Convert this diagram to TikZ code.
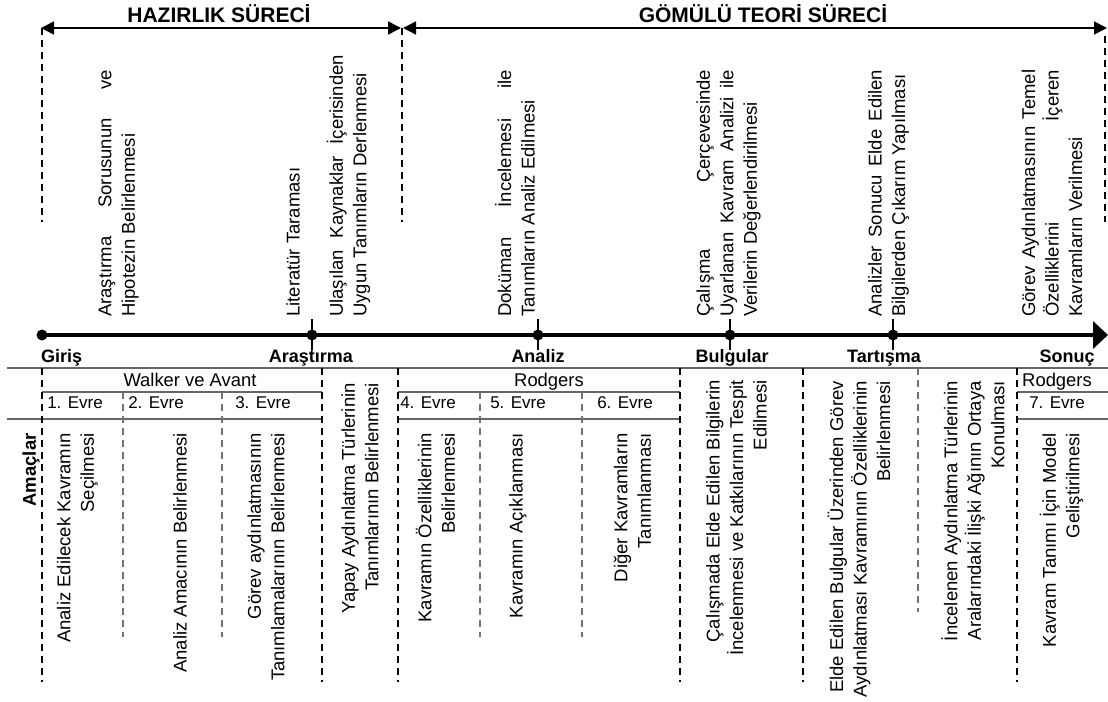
\documentclass[tikz,border=0pt]{standalone}
\usepackage{fontspec}
\setmainfont{Liberation Sans}
\usetikzlibrary{arrows.meta}
\begin{document}
\begin{tikzpicture}[x=1bp,y=-1bp,
  hdr/.style={font=\fontsize{21bp}{25bp}\selectfont\bfseries, inner sep=0, anchor=base},
  lbl/.style={font=\fontsize{18bp}{22bp}\selectfont\bfseries, inner sep=0, anchor=base},
  grp/.style={font=\fontsize{18.4bp}{22bp}\selectfont, inner sep=0, anchor=base},
  evre/.style={font=\fontsize{17bp}{20bp}\selectfont, inner sep=0, anchor=base},
  up/.style={rotate=90, anchor=west, align=left, inner sep=0, font=\fontsize{18.5bp}{23.5bp}\selectfont},
  low/.style={rotate=90, anchor=east, align=right, inner sep=0, font=\fontsize{18.5bp}{23.5bp}\selectfont},
  bdash/.style={dash pattern=on 7bp off 5bp, line width=1.6bp},
  gdash/.style={draw=black!55, dash pattern=on 7bp off 5bp, line width=1.2bp},
  rule/.style={draw=black!60, line width=1.3bp},
  dot/.style={circle, fill=black, inner sep=0, minimum size=11bp},
  tick/.style={line width=2bp},
  harr/.style={line width=1.5bp, {Triangle[length=13bp,width=13bp]}-{Triangle[length=13bp,width=13bp]}}
]
\useasboundingbox (0,0) rectangle (1108,702);

% ---------- top process arrows ----------
\coordinate (a0) at (41,28);
\coordinate (a1) at (401,28);
\coordinate (b0) at (403,28);
\coordinate (b1) at (1107,28);
\draw[harr] (a0) -- (a1);
\draw[harr] (b0) -- (b1);
\node[hdr] (hz) at (219,23) {HAZIRLIK SÜRECİ};
\node[hdr] (gt) at (763,23) {GÖMÜLÜ TEORİ SÜRECİ};

\coordinate (v1t) at (42,28);   \coordinate (v1b) at (42,222);
\coordinate (v2t) at (402,28);  \coordinate (v2b) at (402,222);
\coordinate (v3t) at (1105,36); \coordinate (v3b) at (1105,222);
\draw[bdash] (v1t) -- (v1b);
\draw[bdash] (v2t) -- (v2b);
\draw[bdash] (v3t) -- (v3b);

% ---------- upper rotated texts ----------
\node[up] (u1) at (118.5,317) {\hbox to 247bp{Araştırma\hfill Sorusunun\hfill ve}\\Hipotezin Belirlenmesi};
\node[up] (u2) at (293,317) {Literatür Taraması};
\node[up] (u3) at (348.5,317) {\hbox to 262bp{Ulaşılan\hfill Kaynaklar\hfill İçerisinden}\\Uygun Tanımların Derlenmesi};
\node[up] (u4) at (515,317) {\hbox to 247bp{Doküman\hfill İncelemesi\hfill ile}\\Tanımların Analiz Edilmesi};
\node[up] (u5) at (728.5,317) {\hbox to 247bp{Çalışma\hfill Çerçevesinde}\\\hbox to 247bp{Uyarlanan\hfill Kavram\hfill Analizi\hfill ile}\\Verilerin Değerlendirilmesi};
\node[up] (u6) at (888.5,317) {\hbox to 247bp{Analizler\hfill Sonucu\hfill Elde\hfill Edilen}\\Bilgilerden Çıkarım Yapılması};
\node[up] (u7) at (1052,317) {\hbox to 247bp{Görev\hfill Aydınlatmasının\hfill Temel}\\\hbox to 247bp{Özelliklerini\hfill İçeren}\\Kavramların Verilmesi};

% ---------- timeline ----------
\node[dot] (t0) at (42,335) {};
\node[dot] (t1) at (312,335) {};
\node[dot] (t2) at (538,335) {};
\node[dot] (t3) at (730,335) {};
\node[dot] (t4) at (893,335) {};
\coordinate (t6) at (1108,335);
\draw[line width=3.5bp, -{Triangle[length=15bp,width=27bp]}] (t0.center) -- (t6);
\foreach \p in {t1,t2,t3,t4} {
  \draw[tick] ([yshift=-15bp]\p.center) -- ([yshift=16bp]\p.center);
}

\node[lbl, anchor=base west] (l0) at (41,362) {Giriş};
\node[lbl] (l1) at (311,362) {Araştırma};
\node[lbl] (l2) at (538,362) {Analiz};
\node[lbl] (l3) at (732,362) {Bulgular};
\node[lbl] (l4) at (884,362) {Tartışma};
\node[lbl] (l5) at (1067,362) {Sonuç};

% ---------- lower table ----------
\coordinate (h0a) at (7,368);   \coordinate (h0b) at (1108,368);
\draw[rule] (h0a) -- (h0b);
\coordinate (h1a) at (42,392);  \coordinate (h1b) at (322,392);
\coordinate (h2a) at (7,419);   \coordinate (h2b) at (322,419);
\coordinate (h3a) at (398,392); \coordinate (h3b) at (680,392);
\coordinate (h4a) at (398,419); \coordinate (h4b) at (680,419);
\coordinate (h5a) at (1017,392);\coordinate (h5b) at (1108,392);
\coordinate (h6a) at (1017,419);\coordinate (h6b) at (1108,419);
\draw[rule] (h1a) -- (h1b);
\draw[rule] (h2a) -- (h2b);
\draw[rule] (h3a) -- (h3b);
\draw[rule] (h4a) -- (h4b);
\draw[rule] (h5a) -- (h5b);
\draw[rule] (h6a) -- (h6b);

\foreach \x [count=\i] in {42,322,398,680,803,1017} {
  \coordinate (bd\i t) at (\x,368);
  \coordinate (bd\i b) at (\x,682);
  \draw[bdash] (bd\i t) -- (bd\i b);
}
\foreach \x [count=\i] in {123,222,480,582} {
  \coordinate (gd\i t) at (\x,392);
  \coordinate (gd\i b) at (\x,637);
  \draw[gdash] (gd\i t) -- (gd\i b);
}
\coordinate (gd5t) at (918,368);
\coordinate (gd5b) at (918,612);
\draw[gdash] (gd5t) -- (gd5b);

\node[grp] (wa) at (190,386) {Walker ve Avant};
\node[grp] (r1) at (549,386) {Rodgers};
\node[grp] (r2) at (1057,386) {Rodgers};
\node[evre] (e1) at (75,408) {1. Evre};
\node[evre] (e2) at (156,408) {2. Evre};
\node[evre] (e3) at (263,408) {3. Evre};
\node[evre] (e4) at (428,408) {4. Evre};
\node[evre] (e5) at (518,408) {5. Evre};
\node[evre] (e6) at (625,408) {6. Evre};
\node[evre] (e7) at (1057,408) {7. Evre};

\node[rotate=90, inner sep=0, font=\fontsize{18.5bp}{22bp}\selectfont\bfseries] (am) at (31,470) {Amaçlar};

% ---------- lower rotated texts ----------
\node[low] (d1) at (77.5,433) {Analiz Edilecek Kavramın\\Seçilmesi};
\node[low] (d2) at (180,433) {Analiz Amacının Belirlenmesi};
\node[low] (d3) at (266,433) {Görev aydınlatmasının\\Tanımlamalarının Belirlenmesi};
\node[low] (d4) at (360,383) {Yapay Aydınlatma Türlerinin\\Tanımlarının Belirlenmesi};
\node[low] (d5) at (435.5,433) {Kavramın Özelliklerinin\\Belirlenmesi};
\node[low] (d6) at (518,433) {Kavramın Açıklanması};
\node[low] (d7) at (632.5,433) {Diğer Kavramların\\Tanımlanması};
\node[low] (d8) at (736.5,380) {Çalışmada Elde Edilen Bilgilerin\\İncelenmesi ve Katkılarının Tespit\\Edilmesi};
\node[low] (d9) at (859,381) {Elde Edilen Bulgular Üzerinden Görev\\Aydınlatması Kavramının Özelliklerinin\\Belirlenmesi};
\node[low] (d10) at (973,381) {İncelenen Aydınlatma Türlerinin\\Aralarındaki İlişki Ağının Ortaya\\Konulması};
\node[low] (d11) at (1061.5,433) {Kavram Tanımı İçin Model\\Geliştirilmesi};
\end{tikzpicture}
\end{document}
